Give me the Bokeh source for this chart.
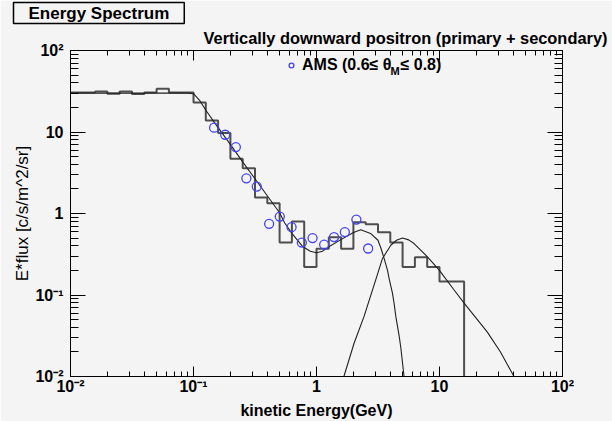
import numpy as np
from bokeh.plotting import figure
from bokeh.models import LogAxis, FixedTicker, Label, Legend, LegendItem, Title
from bokeh.embed import file_html
from bokeh.resources import INLINE

# ---------------- data ----------------
# histogram: log10 of bin edges (GeV) and E*flux per bin
bin_edges_log10 = [-2.0, -1.9, -1.8, -1.7, -1.6, -1.5, -1.4, -1.3, -1.2, -1.1, -1.0,
                   -0.9, -0.8, -0.7, -0.6, -0.5, -0.4, -0.3, -0.2, -0.1, 0.0,
                   0.1, 0.2, 0.3, 0.4, 0.5, 0.6, 0.7, 0.8, 0.9, 1.0, 1.1, 1.2]
hist_flux = [30.5, 30.5, 31.3, 29.5, 31.3, 29.3, 30.5, 34.0, 30.5, 30.5,
             23.0, 13.8, 9.7, 4.7, 3.6, 1.57, 1.34, 0.44, 0.80, 0.22,
             0.37, 0.51, 0.37, 0.78, 0.74, 0.59, 0.44, 0.22, 0.29, 0.22,
             0.146, 0.146]

# model curve 1 (secondary + low-energy component)
curve1_E = [0.01, 0.0316, 0.0891, 0.100, 0.112, 0.126, 0.158, 0.200, 0.251, 0.316,
            0.398, 0.501, 0.550, 0.631, 0.776, 0.891, 1.00, 1.12, 1.26, 1.58,
            2.00, 2.29, 2.75, 3.16, 3.33, 3.55, 3.78, 3.89, 4.14, 4.27,
            4.41, 4.69, 4.84, 5.15]
curve1_flux = [30.0, 30.0, 30.0, 29.5, 24.5, 18.5, 11.4, 7.0, 4.3, 2.67,
               1.65, 1.02, 0.77, 0.57, 0.39, 0.345, 0.33, 0.345, 0.39, 0.478,
               0.585, 0.632, 0.57, 0.47, 0.38, 0.28, 0.20, 0.16, 0.106, 0.08,
               0.055, 0.032, 0.023, 0.01]

# model curve 2 (primary)
curve2_E = [1.67, 2.02, 2.44, 2.59, 3.03, 3.44, 4.02, 4.47, 5.00, 5.62,
            6.21, 7.98, 9.91, 13.1, 15.8, 24.5, 31.4, 40.3]
curve2_flux = [0.01, 0.0256, 0.055, 0.073, 0.153, 0.281, 0.408, 0.47, 0.50, 0.475,
               0.428, 0.294, 0.203, 0.116, 0.080, 0.035, 0.0198, 0.01]

# AMS data points
ams_E = [0.147, 0.181, 0.221, 0.269, 0.327, 0.412, 0.503, 0.627, 0.760, 0.929,
         1.154, 1.39, 1.70, 2.11, 2.63]
ams_flux = [11.3, 9.25, 6.54, 2.70, 2.14, 0.748, 0.917, 0.680, 0.440, 0.500,
            0.416, 0.514, 0.591, 0.843, 0.372]

major_ticks = [0.01, 0.1, 1, 10, 100]
tick_labels = ["10⁻²", "10⁻¹", "1", "10", "10²"]

# ---------------- figure ----------------
BG = "#f4f4f4"
FONT = "Liberation Sans"
W, H = 612, 421
FL, FT, FR, FB = 70, 48, 50, 43   # borders around the plot frame

p = figure(width=W, height=H, x_axis_type="log", y_axis_type="log",
           x_range=(0.01, 100), y_range=(0.01, 100), title=None,
           output_backend="svg", toolbar_location=None,
           min_border_left=FL, min_border_right=FR, min_border_top=FT, min_border_bottom=FB,
           background_fill_color=BG, border_fill_color=BG,
           outline_line_color="black", outline_line_width=1)
p.xgrid.visible = False
p.ygrid.visible = False

minor_ticks = [m * d for d in major_ticks[:-1] for m in range(2, 10)]


def style_axis(ax, major_in, minor_in, labels):
    ax.ticker = FixedTicker(ticks=major_ticks, minor_ticks=minor_ticks)
    ax.major_tick_in = major_in
    ax.major_tick_out = 0
    ax.minor_tick_in = minor_in
    ax.minor_tick_out = 0
    ax.axis_line_color = "black"
    ax.major_tick_line_color = "black"
    ax.minor_tick_line_color = "black"
    ax.major_label_overrides = dict(zip(major_ticks, tick_labels))
    ax.major_label_text_font = FONT
    ax.major_label_text_font_style = "bold"
    ax.major_label_text_font_size = "16px"
    ax.major_label_text_color = "black"
    if not labels:
        ax.major_label_text_alpha = 0
        ax.major_label_text_font_size = "1px"
        ax.major_label_standoff = 0


style_axis(p.xaxis[0], 10, 5, True)
p.xaxis[0].major_label_standoff = 1
p.xaxis[0].axis_label = "kinetic Energy(GeV)"
p.xaxis[0].axis_label_text_font = FONT
p.xaxis[0].axis_label_text_font_style = "bold"
p.xaxis[0].axis_label_text_font_size = "16px"
p.xaxis[0].axis_label_text_color = "black"
p.xaxis[0].axis_label_standoff = 4

style_axis(p.yaxis[0], 15, 8, True)
p.yaxis[0].major_label_standoff = 7
p.yaxis[0].axis_label = "E*flux [c/s/m^2/sr]"
p.yaxis[0].axis_label_text_font = FONT
p.yaxis[0].axis_label_text_font_style = "normal"
p.yaxis[0].axis_label_text_font_size = "17px"
p.yaxis[0].axis_label_text_color = "black"
p.yaxis[0].axis_label_standoff = 0

top_ax = LogAxis()
style_axis(top_ax, 10, 5, False)
p.add_layout(top_ax, "above")
right_ax = LogAxis()
style_axis(right_ax, 15, 8, False)
p.add_layout(right_ax, "right")

# titles stacked above the frame (first added = nearest the frame)
subtitle = Title(text="Vertically downward positron (primary + secondary)",
                 align="left", offset=133, standoff=7,
                 text_font=FONT, text_font_style="bold", text_font_size="16.4px",
                 text_color="black")
p.add_layout(subtitle, "above")
main_title = Title(text="Energy Spectrum", align="left", offset=-57, standoff=0,
                   text_font=FONT, text_font_style="bold", text_font_size="17px",
                   text_color="black", border_line_color="black", border_line_width=1.5,
                   background_fill_color=BG, padding=(15, 1))
p.add_layout(main_title, "above")

# histogram as a step outline built from the bin data
hx, hy = [], []
for i, v in enumerate(hist_flux):
    hx += [10 ** bin_edges_log10[i], 10 ** bin_edges_log10[i + 1]]
    hy += [v, v]
hx.append(10 ** bin_edges_log10[-1])
hy.append(0.01)
p.line(hx, hy, line_color="#4e4e4e", line_width=2)

p.line(curve1_E, curve1_flux, line_color="#202020", line_width=1.1)
p.line(curve2_E, curve2_flux, line_color="#202020", line_width=1.1)

pts = p.scatter(ams_E, ams_flux, marker="circle", size=9, fill_color=None,
                line_color="#4444f2", line_width=1.3)

legend = Legend(items=[LegendItem(label="AMS (0.6≤ θ", renderers=[pts])],
                location=(215, 302), padding=0, margin=0, spacing=0,
                glyph_width=12, glyph_height=18, label_height=18, label_standoff=5,
                border_line_color=None, background_fill_alpha=0,
                label_text_font=FONT, label_text_font_style="bold",
                label_text_font_size="16px", label_text_color="black")
p.add_layout(legend)


# legend continuation texts, placed from page pixels -> frame-relative screen units
def put(text, px, py, size="16px", style="bold", align="left"):
    lab = Label(x=px - FL, y=(H - FB) - py, x_units="screen", y_units="screen",
                text=text, text_font=FONT, text_font_style=style, text_font_size=size,
                text_align=align, text_baseline="middle", text_color="black")
    p.add_layout(lab)
    return lab


put("M", 390, 72, size="11px")
put("≤ 0.8)", 400, 66)

open("out.html", "w").write(file_html(p, INLINE))
